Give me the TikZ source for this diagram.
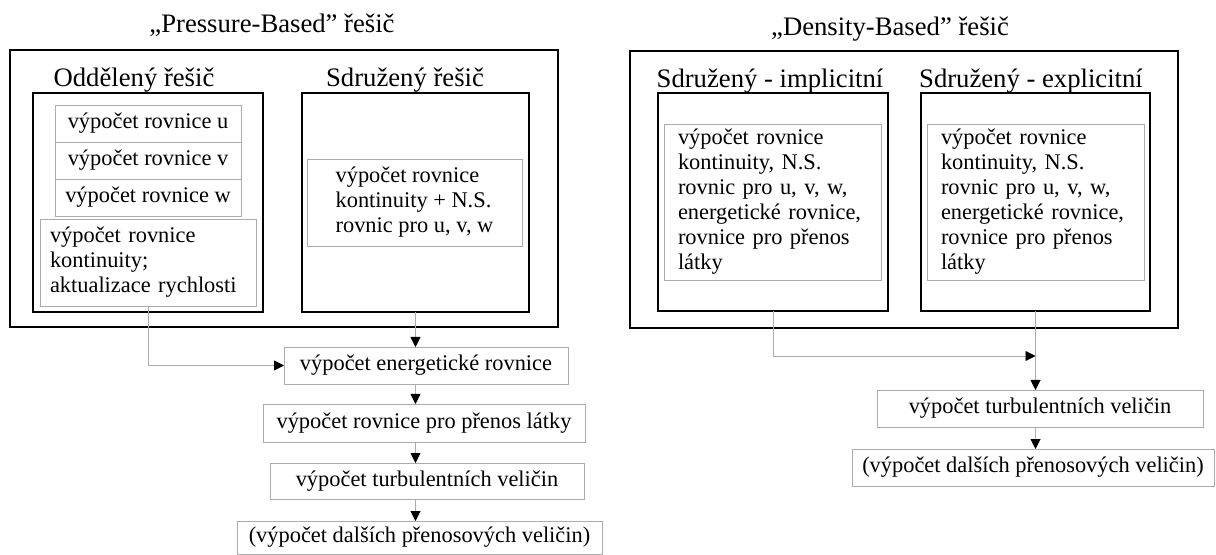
\documentclass[tikz,border=0pt]{standalone}
\usepackage{fontspec}
\setmainfont{Liberation Serif}
\usetikzlibrary{arrows.meta}

\newcommand{\bodyfont}{\fontsize{16.8pt}{18.75pt}\selectfont}
\newcommand{\headfont}{\fontsize{20pt}{24pt}\selectfont}

\tikzset{
  panel/.style={draw=black, line width=2.2pt, inner sep=0pt, outer sep=0pt, anchor=north west},
  solver/.style={draw=black, line width=1.8pt, inner sep=0pt, outer sep=0pt, anchor=north west},
  eqbox/.style={draw=gray!65, line width=0.6pt, inner sep=0pt, outer sep=0pt, anchor=north west, font=\bodyfont},
  notebox/.style={eqbox, align=left},
  head/.style={font=\headfont, inner sep=0pt, anchor=base},
  link/.style={draw=gray!65, line width=0.7pt, -{Triangle[length=7.5pt, width=7.5pt, color=black]}}
}

\begin{document}
\begin{tikzpicture}[x=0.75pt,y=0.75pt,yscale=-1,xscale=1]
\fill[white] (0,0) rectangle (1216,555);
\useasboundingbox (0,0) rectangle (1216,555);

%Shape: outer panels
\node[panel, minimum width=411pt, minimum height=207.75pt] (pb) at (10,50) {};
\node[panel, minimum width=411pt, minimum height=207.75pt] (db) at (630,51) {};
%Shape: solver boxes
\node[solver, minimum width=172.5pt, minimum height=164.25pt] (sep) at (33,93) {};
\node[solver, minimum width=170.25pt, minimum height=164.25pt] (cpl) at (302,93) {};
\node[solver, minimum width=172.5pt, minimum height=163.5pt] (impl) at (658,93) {};
\node[solver, minimum width=171.75pt, minimum height=163.5pt] (expl) at (921,93) {};

% Text Node
\node[head] (pbt) at (272,33) {„Pressure-Based” řešič};
\node[head] (dbt) at (890,36) {„Density-Based” řešič};
\node[head] (sept) at (134,87) {Oddělený řešič};
\node[head] (cplt) at (405,87) {Sdružený řešič};
\node[head] (implt) at (770,88) {Sdružený - implicitní};
\node[head] (explt) at (1031,88) {Sdružený - explicitní};

%Shape: segregated steps
\node[eqbox, minimum width=139.5pt, minimum height=27.75pt] (equ) at (55,105) {výpočet rovnice u};
\node[eqbox, minimum width=139.5pt, minimum height=27.75pt] (eqv) at (55,142) {výpočet rovnice v};
\node[eqbox, minimum width=139.5pt, minimum height=27.75pt] (eqw) at (55,179) {výpočet rovnice w};
\node[notebox, minimum width=162pt, minimum height=65.25pt, inner xsep=7.5pt, text width=147pt] (cont) at (40,219)
  {výpočet rovnice\\ kontinuity;\\ aktualizace rychlosti};
%Shape: coupled steps
\node[notebox, minimum width=161.25pt, minimum height=65.25pt] (cpltxt) at (307,159)
  {výpočet rovnice\\ kontinuity + N.S.\\ rovnic pro u, v, w};
\node[notebox, minimum width=162.75pt, minimum height=117pt, inner xsep=10.5pt, text width=141.75pt] (impltxt) at (664,124)
  {výpočet rovnice\\ kontinuity, N.S.\\ rovnic pro u, v, w,\\ energetické rovnice,\\ rovnice pro přenos\\ látky};
\node[notebox, minimum width=162.75pt, minimum height=117pt, inner xsep=10.5pt, text width=141.75pt] (expltxt) at (927,124)
  {výpočet rovnice\\ kontinuity, N.S.\\ rovnic pro u, v, w,\\ energetické rovnice,\\ rovnice pro přenos\\ látky};

%Shape: pressure-based chain
\node[eqbox, minimum width=213pt, minimum height=27.75pt] (energy) at (284,347) {výpočet energetické rovnice};
\node[eqbox, minimum width=241.5pt, minimum height=28.5pt] (prenos) at (263,404) {výpočet rovnice pro přenos látky};
\node[eqbox, minimum width=235.5pt, minimum height=27pt] (turbL) at (270,463) {výpočet turbulentních veličin};
\node[eqbox, minimum width=273.75pt, minimum height=24.75pt] (lastL) at (237,521) {(výpočet dalších přenosových veličin)};
%Shape: density-based chain
\node[eqbox, minimum width=244.5pt, minimum height=27.75pt] (turbR) at (877,390) {výpočet turbulentních veličin};
\node[eqbox, minimum width=271.5pt, minimum height=27.75pt] (lastR) at (852,449) {(výpočet dalších přenosových veličin)};

%Straight Lines
\draw[link] (cont.south) |- (energy.west);
\draw[link] (cpl.south) -- (cpl.south |- energy.north);
\draw[link] (cpl.south |- energy.south) -- (cpl.south |- prenos.north);
\draw[link] (cpl.south |- prenos.south) -- (cpl.south |- turbL.north);
\draw[link] (cpl.south |- turbL.south) -- (cpl.south |- lastL.north);

\path (expl.south) ++(0,45) coordinate (meet);
\draw[link] (impl.south) |- (meet);
\draw[link] (expl.south) -- (expl.south |- turbR.north);
\draw[link] (expl.south |- turbR.south) -- (expl.south |- lastR.north);

\end{tikzpicture}
\end{document}
